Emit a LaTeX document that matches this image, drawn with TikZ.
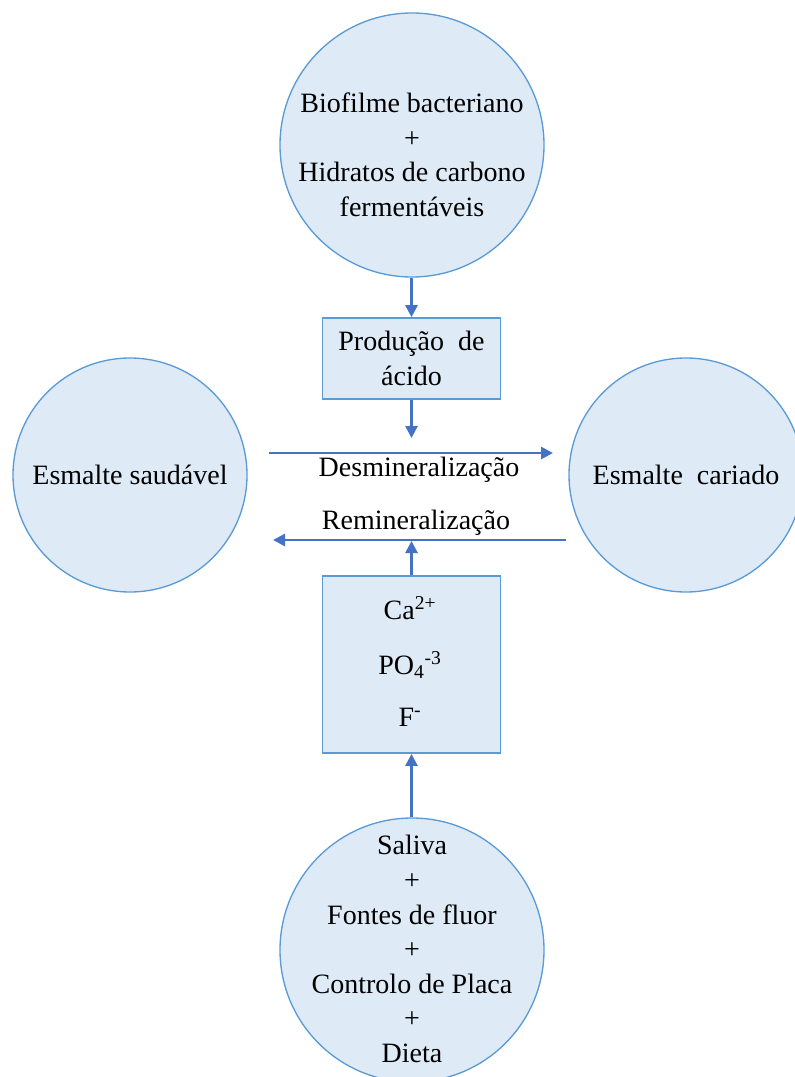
\documentclass[tikz,border=0pt]{standalone}
\usepackage{fontspec}
\setmainfont{Liberation Serif}
\usetikzlibrary{arrows.meta}
\usetikzlibrary{positioning}

\definecolor{bubblefill}{HTML}{DEEBF7}
\definecolor{bubbleline}{HTML}{5B9BD5}
\definecolor{arrowblue}{HTML}{4472C4}

\tikzset{
  bubble/.style={circle, draw=bubbleline, fill=bubblefill, line width=1pt, inner sep=0pt, align=center},
  boxnode/.style={rectangle, draw=bubbleline, fill=bubblefill, line width=1.2pt, inner sep=0pt, align=center},
  flow/.style={draw=arrowblue, line width=2pt, -{Triangle[length=9pt,width=9pt]}},
  lbl/.style={align=center, inner sep=0pt}
}

\begin{document}
\begin{tikzpicture}[x=0.75pt, y=-0.75pt, font=\fontsize{21}{25.9}\selectfont]

  \useasboundingbox (0,0) rectangle (795,1077);

  % top
  \node[bubble, minimum size=198pt] (biofilme) at (412,145) {};
  \node[lbl] (biotxt) at (412,155) {Biofilme\ bacteriano\\+\\Hidratos\ de\ carbono\\fermentáveis};

  \node[boxnode, minimum width=133.5pt, minimum height=60.75pt] (acido) at (411.5,358.5) {Produção\ \ de\\ácido};

  % enamel
  \node[bubble, minimum size=175.5pt] (saudavel) at (130,475) {Esmalte\ saudável};
  \node[bubble, minimum size=175.5pt] (cariado) at (686,475) {Esmalte\ \ cariado};

  \node[lbl] (desmin) at (419,470) {Desmineralização};
  \node[lbl] (remin) at (416,523) {Remineralização};

  % ions
  \node[boxnode, minimum width=133.5pt, minimum height=133pt] (ions) at (411.5,664.5) {};
  \foreach \y/\ion in {608/{Ca\textsuperscript{2+}}, 665/{PO\textsubscript{4}\textsuperscript{-3}}, 717/{F\textsuperscript{-}}} {
    \node[lbl] (ion\y) at (410,\y) {\ion};
  }

  % bottom
  \node[bubble, minimum size=198pt] (fontes) at (412,950) {};
  \node[lbl] (fontestxt) at (412,949) {Saliva\\+\\Fontes de fluor\\+\\Controlo de Placa\\+\\Dieta};

  % lines
  \coordinate (acidtip) at (411.5,438);
  \coordinate (dstart) at (269,453);
  \coordinate (dend) at (553,453);
  \coordinate (rstart) at (566,540);
  \coordinate (rend) at (273,540);
  \coordinate (ionstip) at (411.5,541);

  \draw[flow] (biofilme.south -| acido.north) -- (acido.north);
  \draw[flow] (acido.south) -- (acidtip);
  \draw[flow] (dstart) -- (dend);
  \draw[flow] (rstart) -- (rend);
  \draw[flow] (ions.north) -- (ionstip);
  \draw[flow] (fontes.north -| ions.south) -- (ions.south);

\end{tikzpicture}
\end{document}
